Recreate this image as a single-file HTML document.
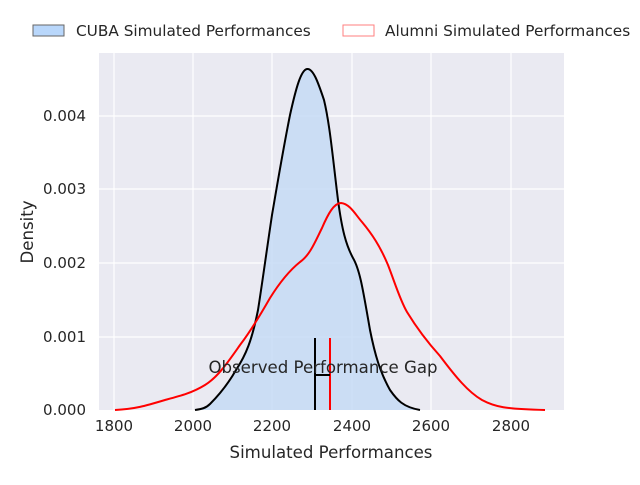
<!DOCTYPE html>
<html><head><meta charset="utf-8"><style>
body{margin:0;background:#fff;}
svg text{font-family:"DejaVu Sans","Liberation Sans",sans-serif;fill:#262626;}
</style></head><body>
<svg width="640" height="480" viewBox="0 0 640 480" xmlns="http://www.w3.org/2000/svg">
<rect x="99" y="53" width="465" height="357" fill="#eaeaf2"/>
<g stroke="#fff" stroke-width="1.2">
<line x1="114" y1="53" x2="114" y2="410"/><line x1="193" y1="53" x2="193" y2="410"/>
<line x1="272" y1="53" x2="272" y2="410"/><line x1="352" y1="53" x2="352" y2="410"/>
<line x1="431" y1="53" x2="431" y2="410"/><line x1="511" y1="53" x2="511" y2="410"/>
<line x1="99" y1="337" x2="564" y2="337"/><line x1="99" y1="263" x2="564" y2="263"/>
<line x1="99" y1="189" x2="564" y2="189"/><line x1="99" y1="116" x2="564" y2="116"/>
</g>
<path d="M195,410 C202,409 206,408 210,404 C220,394 228,384 236,370 C246,355 252,340 258,310 C262,285 266,255 272,215 C278,180 283,150 290,115 C296,88 301,70 307,69 C313,68 318,82 324,100 C330,125 333,160 338,200 C342,230 346,245 353,258 C360,270 363,290 370,330 C375,355 380,372 390,390 C397,400 403,407 420,410 Z" fill="#c6daf5" fill-opacity="0.85"/>
<path d="M195,410 C202,409 206,408 210,404 C220,394 228,384 236,370 C246,355 252,340 258,310 C262,285 266,255 272,215 C278,180 283,150 290,115 C296,88 301,70 307,69 C313,68 318,82 324,100 C330,125 333,160 338,200 C342,230 346,245 353,258 C360,270 363,290 370,330 C375,355 380,372 390,390 C397,400 403,407 420,410" fill="none" stroke="#000" stroke-width="2"/>
<path d="M115,410 C135,409 145,406 165,400 C180,396 192,393 205,385 C218,377 228,362 240,345 C250,332 262,312 270,298 C280,282 290,270 300,262 C310,255 315,242 322,228 C328,214 334,203 341,203 C350,204 355,214 362,222 C372,234 380,246 388,265 C395,283 400,300 407,312 C418,330 430,345 440,356 C455,376 468,392 482,400 C495,407 505,409 545,410" fill="none" stroke="#ff0000" stroke-width="2"/>
<line x1="315" y1="338" x2="315" y2="410" stroke="#000" stroke-width="2"/>
<line x1="330" y1="338" x2="330" y2="410" stroke="#ff0000" stroke-width="2"/>
<line x1="315" y1="375" x2="330" y2="375" stroke="#000" stroke-width="2"/>
<text x="323" y="373" font-size="16.6" text-anchor="middle">Observed Performance Gap</text>
<g font-size="15" text-anchor="middle">
<text x="114" y="431">1800</text><text x="193" y="431">2000</text><text x="272" y="431">2200</text>
<text x="352" y="431">2400</text><text x="431" y="431">2600</text><text x="511" y="431">2800</text>
</g>
<g font-size="15" text-anchor="end">
<text x="86" y="415">0.000</text><text x="86" y="342">0.001</text><text x="86" y="268">0.002</text>
<text x="86" y="194">0.003</text><text x="86" y="121">0.004</text>
</g>
<text x="331" y="458" font-size="16.6" text-anchor="middle">Simulated Performances</text>
<text transform="translate(33,232) rotate(-90)" font-size="16.6" text-anchor="middle">Density</text>
<rect x="33" y="25" width="31" height="11" fill="#b9d7fb" stroke="#666" stroke-width="1"/>
<text x="76" y="36" font-size="15.3">CUBA Simulated Performances</text>
<rect x="343" y="25" width="31" height="11" fill="#fff" stroke="#ff7f7f" stroke-width="1"/>
<text x="385" y="36" font-size="15.3">Alumni Simulated Performances</text>
</svg>
</body></html>
